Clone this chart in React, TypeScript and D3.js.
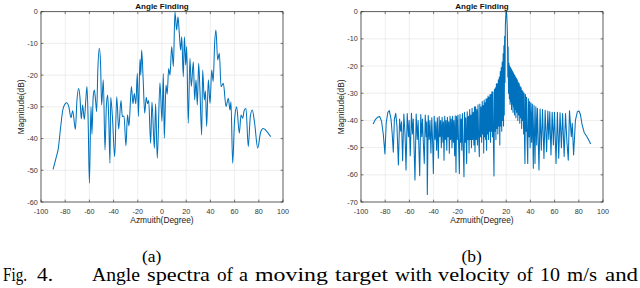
import React from 'react';
import * as d3 from 'd3';

const xTicks = [-100, -80, -60, -40, -20, 0, 20, 40, 60, 80, 100];
const leftYTicks = [0, -10, -20, -30, -40, -50, -60];
const rightYTicks = [0, -10, -20, -30, -40, -50, -60, -70];
const titleText = 'Angle Finding';
const xLabelText = 'Azmuith(Degree)';
const yLabelText = 'Magnitude(dB)';
const subLabels = ['(a)', '(b)'];

const leftData: [number, number][] = [
  [-90, -49.7], [-87.5, -46], [-85.7, -43.1], [-83.7, -36.2], [-82, -31], [-80.5, -29.3], [-78.8, -28.7],
  [-77, -30], [-75.2, -33.4], [-73.8, -31.2], [-71.6, -37.1], [-70.3, -28], [-68.9, -24.2], [-67.8, -27],
  [-66.7, -33.8], [-65.6, -29.4], [-64.2, -34], [-63, -28], [-62, -23.6], [-61, -35], [-60, -54.1],
  [-58.7, -29.9], [-57.9, -38.6], [-56.9, -27], [-55.9, -24.7], [-54.9, -28], [-54, -31.5], [-53, -18],
  [-51.8, -11.5], [-50.8, -16], [-49.9, -29.4], [-48.5, -21.5], [-47.1, -43.6], [-46, -30], [-44.9, -26.3],
  [-44, -34], [-43, -47.8], [-42.4, -27], [-41, -33], [-39.1, -45.7], [-37.4, -26.8], [-35.8, -37],
  [-33.9, -28], [-32.8, -33], [-31.4, -32.9], [-29.8, -42.3], [-28.5, -32.5], [-27.3, -36], [-25.3, -23.6],
  [-24, -29], [-22.9, -25.8], [-21.6, -29], [-20.4, -19.4], [-19.5, -33], [-18.2, -15], [-17.5, -20],
  [-16.8, -12.1], [-15.5, -22], [-14.3, -32], [-13, -27], [-12, -29], [-11, -28], [-9.4, -41.5],
  [-8.3, -28.5], [-6.3, -43.1], [-5.3, -29], [-3.9, -46.2], [-1.7, -22.4], [0, -34.5], [1.1, -19.5],
  [1.9, -39.9], [3.3, -23.1], [4.3, -26], [5.5, -17.9], [6.6, -20], [8, -11], [9.4, -17.3], [10.7, 0],
  [12.1, -5.8], [13.2, -1.6], [14.3, -6.8], [15.4, -12.1], [16.3, -7.9], [17.6, -20.5], [18.5, -7.9],
  [19.6, -16.8], [20.4, -11], [21.7, -35.2], [23.1, -14.7], [24.2, -23.6], [25.9, -15.8], [27, -27.8],
  [28.1, -21.5], [29.2, -29.4], [30.3, -16.3], [31.4, -25.2], [32.8, -38.9], [33.6, -18.4], [35, -27.8],
  [35.9, -25], [36.9, -36.2], [38.3, -21.5], [39.7, -28.9], [41.1, -18.4], [42.3, -22], [43.5, -10],
  [44.6, -5.8], [46, -15.2], [47.4, -13.1], [48.8, -23.6], [50.7, -22.6], [52.9, -29.9], [54.8, -27.3],
  [56.2, -31], [57, -28.4], [58.4, -47.8], [60, -34], [61.7, -30], [63.9, -38.3], [65.3, -32.6],
  [66.7, -33.6], [68, -31], [69.4, -30.5], [71.3, -42.5], [73, -33], [74.6, -31], [76.5, -35],
  [79.1, -43], [81.5, -38], [83.7, -36.8], [86, -37.5], [89.8, -39.4],
];

const rightData: [number, number][] = [
  [-90, -41.3], [-88, -39.6], [-86, -38.7], [-84.5, -38.6], [-83, -40.3], [-81.6, -45], [-80.2, -52.3],
  [-79.2, -41], [-77.8, -37], [-76.6, -36.4], [-75.2, -39.5], [-74.2, -45], [-73.3, -51.7], [-72.4, -39.5],
  [-71.3, -37.4], [-70.3, -42], [-69.1, -56.4], [-68.1, -39.5], [-67.2, -44], [-66.5, -40.5], [-65.6, -54.8],
  [-64.6, -37.6], [-63.6, -45], [-62.8, -58.2], [-61.8, -37.5], [-60.8, -46], [-60.2, -40], [-59.3, -53],
  [-58.3, -37.4], [-57.5, -45], [-56.8, -39.5], [-55.4, -61.9], [-54.4, -37.6], [-53.5, -47], [-52.8, -40],
  [-51.5, -60.3], [-50.6, -37.8], [-49.8, -46], [-49.2, -39.5], [-48.4, -49], [-47.7, -55.8], [-46.9, -38],
  [-46.1, -46], [-45.6, -40.5], [-45.2, -67.2], [-44.4, -38.2], [-43.6, -47], [-43, -40], [-42.2, -52],
  [-41.5, -39], [-40.8, -48], [-40.2, -59.5],
  [-39.5, -38.5], [-38.8, -47], [-38.2, -40.5], [-37.5, -51], [-36.9, -39], [-36.1, -53.9], [-35.4, -38.6],
  [-34.8, -46], [-34.2, -40], [-33.6, -50], [-33, -38.8], [-32.3, -48], [-31.9, -40.5], [-31.4, -54.6],
  [-30.8, -38.5], [-30.2, -47], [-29.7, -40], [-29.1, -51], [-28.6, -38.8], [-28, -46], [-27.5, -40.5],
  [-27, -52.1], [-26.4, -38.5], [-25.9, -47], [-25.4, -39.5], [-24.8, -50], [-24.3, -38.5], [-23.7, -48],
  [-23.2, -40], [-22.6, -53], [-22.1, -38.3], [-21.5, -59.1], [-21, -38.5], [-20.4, -47],
  [-19.9, -38], [-19.3, -49], [-18.7, -59.5], [-18.2, -37.8], [-17.7, -48], [-17.2, -39.5], [-16.7, -51],
  [-16.2, -37.5], [-15.7, -47], [-14.9, -60.7], [-14.4, -37], [-13.9, -48], [-13.4, -39], [-12.7, -55.8],
  [-12.2, -36.8], [-11.7, -47], [-11.2, -38.5], [-10.7, -52], [-10.2, -36], [-9.7, -47], [-9.2, -38],
  [-8.7, -50], [-8.2, -35.5], [-7.7, -47], [-7.2, -37], [-6.7, -49], [-6.2, -35], [-5.8, -51.5],
  [-5.3, -35], [-4.8, -47], [-4.3, -36], [-3.8, -49], [-3.3, -34.2], [-2.8, -46], [-2.2, -53.3],
  [-1.8, -34], [-1.3, -46], [-0.8, -35], [-0.3, -48],
  [0.2, -33], [0.6, -45], [1.0, -34.5], [1.4, -52], [1.8, -32.5], [2.2, -46], [2.6, -33.5], [3.0, -47],
  [3.4, -32], [3.8, -51], [4.2, -32], [4.6, -45], [5.0, -31], [5.4, -47], [5.8, -31.5], [6.2, -44],
  [6.6, -30.5], [7.0, -48], [7.4, -30.5], [7.8, -44], [8.2, -29.5], [8.6, -46], [9.0, -29.5], [9.5, -50],
  [9.9, -60.4], [10.3, -28.5], [10.7, -44], [11.1, -28], [11.5, -47], [11.9, -26.5], [12.3, -43],
  [12.7, -26.5], [13.1, -45], [13.5, -25], [13.9, -42], [14.3, -24], [14.7, -49], [15.1, -22],
  [15.5, -42], [15.9, -20.5], [16.3, -44], [16.7, -18.5], [17.1, -40], [17.5, -15.5], [17.8, -42],
  [18.1, -12.5], [18.4, -38], [18.7, -9], [19.0, -26], [19.3, -5], [19.6, -2], [19.9, -0.3], [20.2, 0],
  [20.5, -1.5], [20.8, -5], [21.1, -11], [21.35, -24], [21.6, -13], [21.9, -30],
  [22.3, -19], [22.6, -32], [22.9, -20], [23.2, -34], [23.5, -20.5], [23.8, -33], [24.1, -21], [24.4, -36],
  [24.7, -21.5], [25.0, -34], [25.3, -22], [25.6, -37], [25.9, -22.5], [26.2, -35], [26.5, -23],
  [26.8, -38], [27.1, -23.5], [27.4, -36], [27.7, -24], [28.0, -39], [28.4, -24.5], [28.8, -37],
  [29.2, -25], [29.6, -40], [30.0, -26], [30.4, -38], [30.8, -26.5], [31.2, -41], [31.6, -27.5],
  [32.0, -39], [32.4, -28], [32.8, -43], [33.2, -29], [33.6, -40], [34.0, -29.5], [34.4, -45],
  [34.8, -30], [35.2, -49], [35.5, -55.8], [35.9, -30.5], [36.4, -44], [36.8, -31.5], [37.3, -47],
  [37.8, -55.8], [38.3, -32], [38.8, -46], [39.3, -33], [39.8, -50],
  [40.4, -33.5], [41.0, -48], [41.6, -34], [42.4, -57.6], [43.0, -34.5], [43.8, -55.8], [44.5, -35],
  [45.2, -49], [45.8, -35.5], [47.1, -58.2], [48.0, -35.8], [49.0, -51], [50.0, -36], [51.2, -54],
  [52.2, -36.3], [53.4, -51.5], [54.4, -36.5], [55.2, -47], [56.0, -36.8], [57.0, -52.7], [58.0, -37],
  [59.0, -49], [59.9, -37], [61.2, -55.8], [62.3, -37], [63.4, -53.9], [64.5, -37.2], [65.6, -50],
  [66.6, -37.5], [67.9, -53.3], [69.0, -37.5], [70.2, -48], [71.3, -54.6], [72.3, -36.4], [73.8, -46],
  [74.6, -41], [75.7, -52.7], [77.2, -40], [78.8, -36.8], [80.2, -36.5], [81.3, -37.8], [82.7, -41.5],
  [84.5, -44.5], [86.5, -45.8], [88.5, -47.5], [89.8, -48.7],
];

const captionWords: { t: string; x0: number; x1: number }[] = [
  { t: 'Fig.', x0: 3, x1: 27 },
  { t: '4.', x0: 37, x1: 53 },
  { t: 'Angle', x0: 92, x1: 140 },
  { t: 'spectra', x0: 147, x1: 210 },
  { t: 'of', x0: 217, x1: 233 },
  { t: 'a', x0: 239, x1: 248 },
  { t: 'moving', x0: 255, x1: 328 },
  { t: 'target', x0: 335, x1: 388 },
  { t: 'with', x0: 395, x1: 432 },
  { t: 'velocity', x0: 438, x1: 510 },
  { t: 'of', x0: 517, x1: 533 },
  { t: '10', x0: 540, x1: 560 },
  { t: 'm/s', x0: 567, x1: 597 },
  { t: 'and', x0: 605, x1: 638 },
];

const SANS = '"Liberation Sans", Arial, Helvetica, sans-serif';
const SERIF = '"Liberation Serif", "Times New Roman", Times, serif';
const AXIS = '#262626';
const GRID = '#e3e3e3';
const LINE = '#0072BD';

type PanelProps = {
  x0: number;
  x1: number;
  yMin: number;
  yTicks: number[];
  data: [number, number][];
  curve: d3.CurveFactory;
};

function Panel({ x0, x1, yMin, yTicks, data, curve }: PanelProps) {
  const top = 11.7;
  const bot = 202;
  const x = d3.scaleLinear().domain([-100, 100]).range([x0, x1]);
  const y = d3.scaleLinear().domain([yMin, 0]).range([bot, top]);
  const line = d3
    .line<[number, number]>()
    .x((d) => x(d[0]))
    .y((d) => y(d[1]))
    .curve(curve);
  const cx = (x0 + x1) / 2;
  const tl = 2.4;
  return (
    <g>
      {xTicks.map((t) => (
        <line key={'gx' + t} x1={x(t)} x2={x(t)} y1={top} y2={bot} stroke={GRID} strokeWidth={0.6} />
      ))}
      {yTicks.map((t) => (
        <line key={'gy' + t} x1={x0} x2={x1} y1={y(t)} y2={y(t)} stroke={GRID} strokeWidth={0.6} />
      ))}
      <path d={line(data) || ''} fill="none" stroke={LINE} strokeWidth={1.05} strokeLinejoin="round" />
      <rect x={x0} y={top} width={x1 - x0} height={bot - top} fill="none" stroke={AXIS} strokeWidth={0.7} />
      {xTicks.map((t) => (
        <g key={'tx' + t}>
          <line x1={x(t)} x2={x(t)} y1={bot} y2={bot - tl} stroke={AXIS} strokeWidth={0.6} />
          <line x1={x(t)} x2={x(t)} y1={top} y2={top + tl} stroke={AXIS} strokeWidth={0.6} />
          <text x={x(t)} y={213.6} fontSize={7.2} textAnchor="middle" fill="#333" fontFamily={SANS}>
            {t}
          </text>
        </g>
      ))}
      {yTicks.map((t) => (
        <g key={'ty' + t}>
          <line x1={x0} x2={x0 + tl} y1={y(t)} y2={y(t)} stroke={AXIS} strokeWidth={0.6} />
          <line x1={x1} x2={x1 - tl} y1={y(t)} y2={y(t)} stroke={AXIS} strokeWidth={0.6} />
          <text x={x0 - 3.3} y={y(t)} dy="0.35em" fontSize={7.2} textAnchor="end" fill="#333" fontFamily={SANS}>
            {t}
          </text>
        </g>
      ))}
      <text x={cx} y={8.6} fontSize={8} fontWeight="bold" textAnchor="middle" fill="#111" fontFamily={SANS}>
        {titleText}
      </text>
      <text x={cx} y={223.2} fontSize={8.4} textAnchor="middle" fill="#222" fontFamily={SANS}>
        {xLabelText}
      </text>
      <text
        transform={`translate(${x0 - 17.5},${(top + bot) / 2}) rotate(-90)`}
        fontSize={8.4}
        textAnchor="middle"
        fill="#222"
        fontFamily={SANS}
      >
        {yLabelText}
      </text>
    </g>
  );
}

export default function App() {
  return (
    <svg
      width={640}
      height={288}
      viewBox="0 0 640 288"
      style={{ position: 'fixed', left: 0, top: 0, background: '#fff' }}
    >
      <rect x={0} y={0} width={640} height={288} fill="#fff" />
      <Panel x0={41} x1={283} yMin={-60} yTicks={leftYTicks} data={leftData} curve={d3.curveMonotoneX} />
      <Panel x0={361} x1={603} yMin={-70} yTicks={rightYTicks} data={rightData} curve={d3.curveLinear} />
      <text x={151.7} y={262} fontSize={17.5} textAnchor="middle" fill="#000" fontFamily={SERIF}>
        {subLabels[0]}
      </text>
      <text x={471.7} y={262} fontSize={17.5} textAnchor="middle" fill="#000" fontFamily={SERIF}>
        {subLabels[1]}
      </text>
      {captionWords.map((w, i) => (
        <text
          key={i}
          x={w.x0}
          y={281}
          fontSize={18.5}
          fill="#000"
          fontFamily={SERIF}
          textLength={w.x1 - w.x0}
          lengthAdjust="spacingAndGlyphs"
        >
          {w.t}
        </text>
      ))}
    </svg>
  );
}
